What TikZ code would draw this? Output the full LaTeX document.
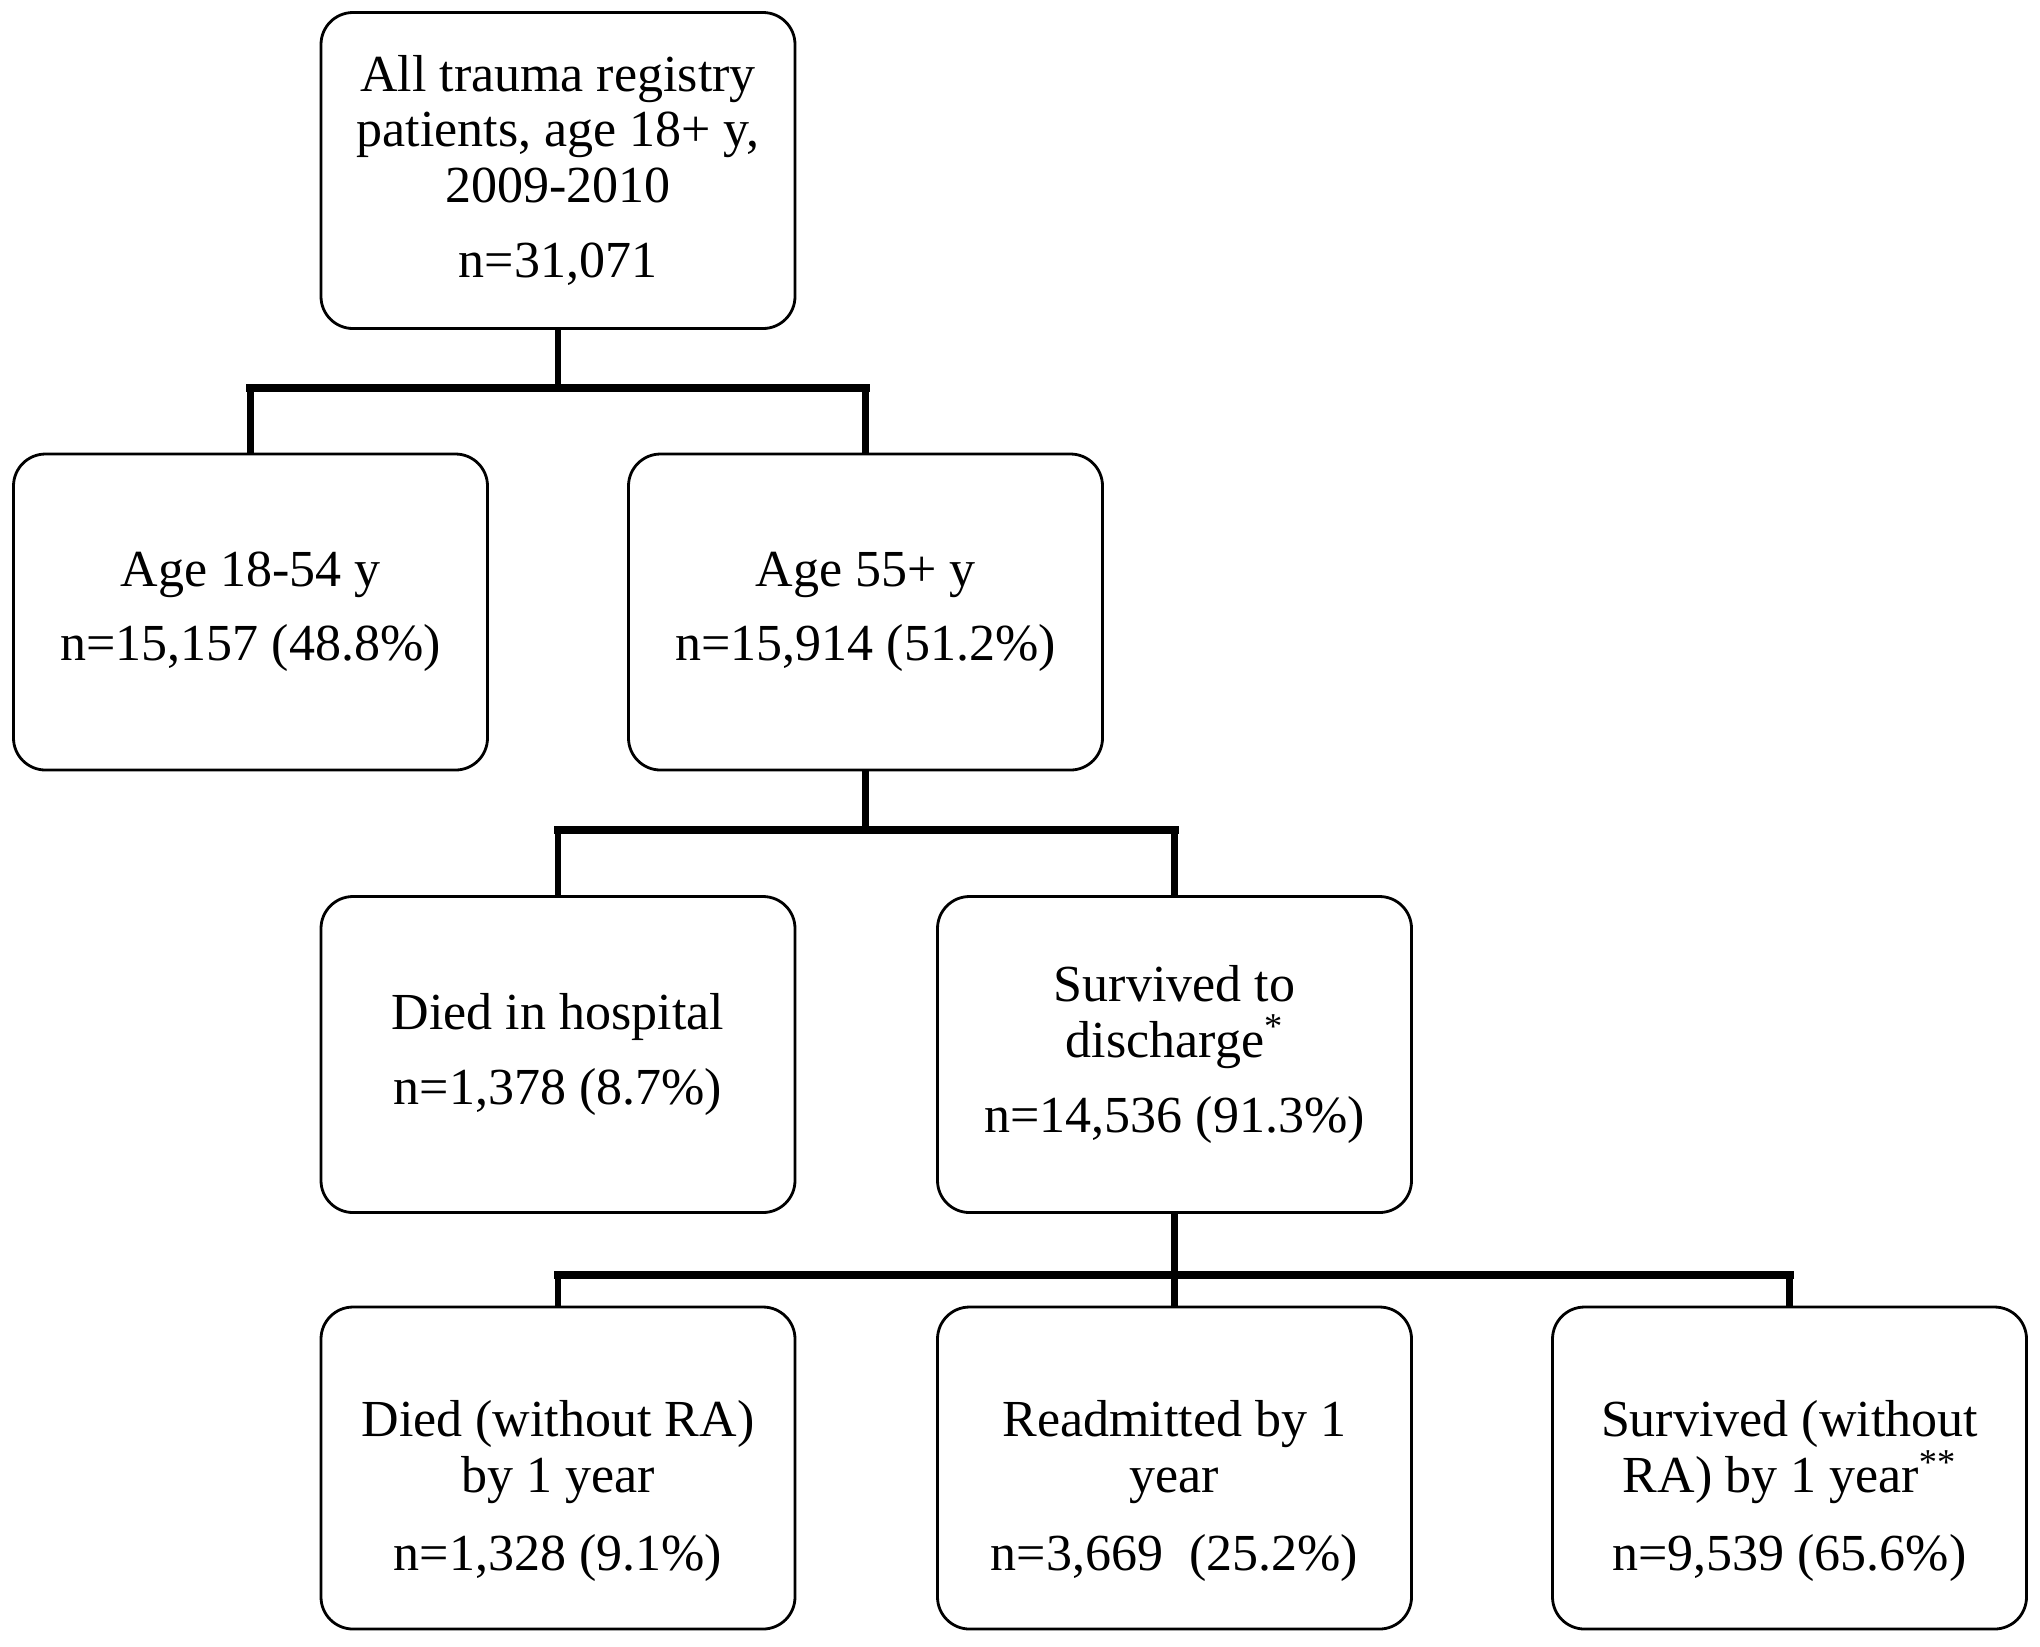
\documentclass[tikz,border=0pt]{standalone}
\usepackage{fontspec}
\setmainfont{Liberation Serif}
\begin{document}
\begin{tikzpicture}[x=1pt,y=1pt,
  box/.style={draw=black, line width=1.4pt, rounded corners=16pt, align=center,
    minimum width=237pt, minimum height=158pt, inner sep=0pt,
    font=\fontsize{26pt}{27.8pt}\selectfont},
  lowbox/.style={box, minimum height=161pt},
  conn/.style={draw=black, line width=3.4pt},
  bus/.style={draw=black, line width=4.2pt, line cap=rect}]
\useasboundingbox (0,0) rectangle (1020,-823);
\node[box] (top) at (279,-85.25) {All trauma registry\\patients, age 18+ y,\\2009-2010\\[10pt]n=31,071};
\node[box] (a) at (125.25,-306) {Age 18-54 y\\[9pt]n=15,157 (48.8\%)};
\node[box] (b) at (432.75,-306) {Age 55+ y\\[9pt]n=15,914 (51.2\%)};
\node[box] (c) at (279,-527.25) {Died in hospital\\[10pt]n=1,378 (8.7\%)};
\node[box] (d) at (587.25,-527.25) {Survived to\\discharge\textsuperscript{*}\\[10pt]n=14,536 (91.3\%)};
\node[lowbox] (e) at (279,-734) {\rule{0pt}{41pt}Died (without RA)\\by 1 year\\[11pt]n=1,328 (9.1\%)};
\node[lowbox] (f) at (587.25,-734) {\rule{0pt}{41pt}Readmitted by 1\\year\\[11pt]n=3,669\ \ (25.2\%)};
\node[lowbox] (g) at (894.75,-734) {\rule{0pt}{41pt}Survived (without\\RA) by 1 year\textsuperscript{**}\\[11pt]n=9,539 (65.6\%)};
\coordinate (j1) at (279,-194);
\coordinate (j2) at (432.75,-415);
\coordinate (j3) at (587.25,-637.5);
% level 1
\draw[conn] (top.south) -- (j1);
\draw[bus] (a.north |- j1) -- (b.north |- j1);
\draw[conn] (a.north |- j1) -- (a.north);
\draw[conn] (b.north |- j1) -- (b.north);
% level 2
\draw[conn] (b.south) -- (j2);
\draw[bus] (c.north |- j2) -- (d.north |- j2);
\draw[conn] (c.north |- j2) -- (c.north);
\draw[conn] (d.north |- j2) -- (d.north);
% level 3
\draw[conn] (d.south) -- (j3);
\draw[bus] (e.north |- j3) -- (g.north |- j3);
\draw[conn] (e.north |- j3) -- (e.north);
\draw[conn] (j3) -- (f.north);
\draw[conn] (g.north |- j3) -- (g.north);
\end{tikzpicture}
\end{document}
